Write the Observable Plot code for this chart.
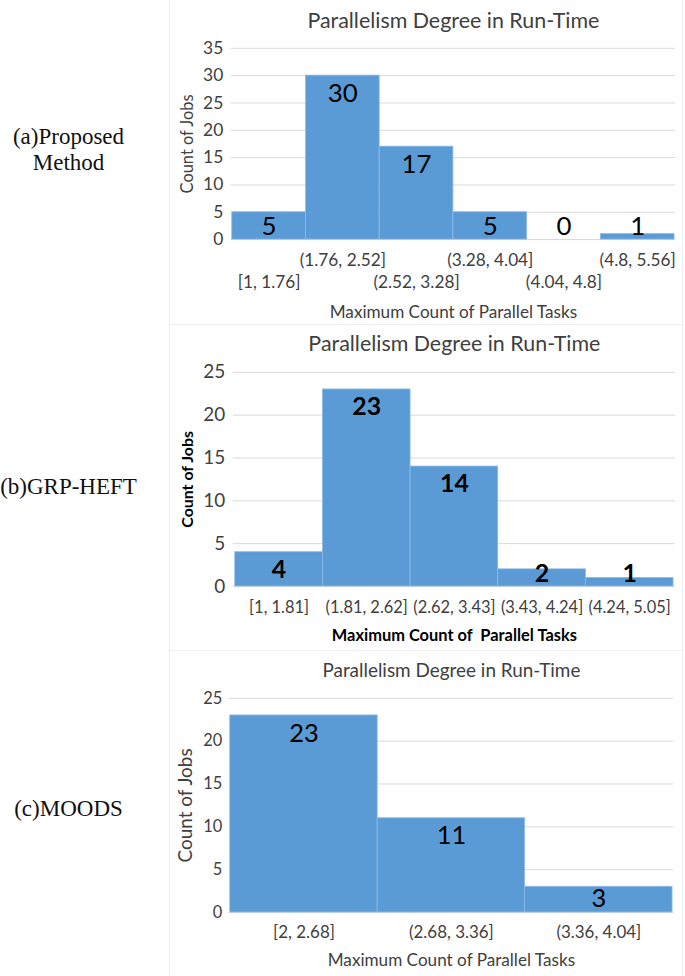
<!DOCTYPE html>
<html>
<head>
<meta charset="utf-8">
<script src="https://cdn.jsdelivr.net/npm/d3@7"></script>
<script src="https://cdn.jsdelivr.net/npm/@observablehq/plot@0.6"></script>
<style>
  html, body { margin: 0; padding: 0; background: #fff; }
  #page { position: relative; width: 685px; height: 976px; overflow: hidden; background: #fff; }
  .side { position: absolute; left: 0; width: 137px; text-align: center; font-family: "Liberation Serif", "Times New Roman", serif; font-size: 23px; line-height: 26px; color: #111; }
  .panel { position: absolute; left: 169px; width: 514px; box-sizing: border-box; border: 1px solid #efefef; }
  .panel svg { display: block; }
</style>
</head>
<body>
<div id="page">
  <div class="side" style="top:124px">(a)Proposed<br>Method</div>
  <div class="side" style="top:474px">(b)GRP-HEFT</div>
  <div class="side" style="top:796px">(c)MOODS</div>
  <div class="panel" id="pA" style="top:-1px;height:326px"></div>
  <div class="panel" id="pB" style="top:324px;height:327px"></div>
  <div class="panel" id="pC" style="top:650px;height:330px"></div>
</div>
<script>
// ---------- data ----------
const titleText = "Parallelism Degree in Run-Time";
const yLabelText = "Count of Jobs";
const xLabelA = "Maximum Count of Parallel Tasks";
const xLabelB = "Maximum Count of  Parallel Tasks";

const binsA = ["[1, 1.76]", "(1.76, 2.52]", "(2.52, 3.28]", "(3.28, 4.04]", "(4.04, 4.8]", "(4.8, 5.56]"];
const countsA = [5, 30, 17, 5, 0, 1];
const yTicksA = [0, 5, 10, 15, 20, 25, 30, 35];

const binsB = ["[1, 1.81]", "(1.81, 2.62]", "(2.62, 3.43]", "(3.43, 4.24]", "(4.24, 5.05]"];
const countsB = [4, 23, 14, 2, 1];
const yTicksB = [0, 5, 10, 15, 20, 25];

const binsC = ["[2, 2.68]", "(2.68, 3.36]", "(3.36, 4.04]"];
const countsC = [23, 11, 3];
const yTicksC = [0, 5, 10, 15, 20, 25];

// ---------- drawing ----------
const BAR = "#5B9BD5";
const GRID = "#d9d9d9";
const TXT = "#404040";

function panel(cfg) {
  const {bins, counts, ticks, width, height, ml, mr, mt, mb} = cfg;
  const yMax = ticks[ticks.length - 1];
  const k = (height - mt - mb) / yMax; // px per unit
  const data = bins.map((b, i) => ({
    bin: b, count: counts[i], row: i % 2,
    ly: Math.max(counts[i] - cfg.valOffset / k, cfg.valFloor / k)
  }));
  const fw = cfg.bold ? "bold" : "normal";
  const marks = [
    Plot.ruleY(ticks, {y: d => d, stroke: GRID, strokeWidth: 1}),
    Plot.barY(data.filter(d => d.count > 0), {x: "bin", y: "count", fill: BAR, stroke: "#8fb9e3", strokeWidth: 0.8}),
    Plot.text(data, {x: "bin", y: "ly", text: d => String(d.count), lineAnchor: "middle", fontSize: cfg.valSize, fontWeight: fw, fill: "#000"}),
    Plot.text(ticks, {y: d => d, text: d => String(d), frameAnchor: "left", textAnchor: "end", lineAnchor: "middle", dx: -cfg.yTickPad, fontSize: cfg.yTickSize, fill: TXT}),
    Plot.text([titleText], {text: d => d, frameAnchor: "top", textAnchor: "middle", lineAnchor: "middle", dy: cfg.titleY - mt, fontSize: cfg.titleSize, fill: TXT}),
    Plot.text([yLabelText], {text: d => d, frameAnchor: "left", textAnchor: "middle", lineAnchor: "middle", rotate: -90, dx: -cfg.yLabDx, fontSize: cfg.yLabSize, fontWeight: fw, fill: cfg.bold ? "#000" : TXT}),
    Plot.text([cfg.xLab], {text: d => d, frameAnchor: "bottom", textAnchor: "middle", lineAnchor: "middle", dy: cfg.xLabDy, fontSize: cfg.xLabSize, fontWeight: fw, fill: cfg.bold ? "#000" : TXT})
  ];
  const tickOpts = dy => ({x: "bin", text: "bin", frameAnchor: "bottom", textAnchor: "middle", lineAnchor: "middle", dy, fontSize: cfg.xTickSize, fill: TXT});
  if (cfg.stagger) {
    marks.push(Plot.text(data.filter(d => d.row === 1), tickOpts(cfg.xTickDy[0])));
    marks.push(Plot.text(data.filter(d => d.row === 0), tickOpts(cfg.xTickDy[1])));
  } else {
    marks.push(Plot.text(data, tickOpts(cfg.xTickDy[0])));
  }
  return Plot.plot({
    width, height,
    marginLeft: ml, marginRight: mr, marginTop: mt, marginBottom: mb,
    style: {fontFamily: "Lato, 'Open Sans', sans-serif", background: "transparent", overflow: "visible"},
    x: {type: "band", domain: bins, padding: 0, axis: null},
    y: {domain: [0, yMax], axis: null},
    marks
  });
}

document.getElementById("pA").append(panel({
  bins: binsA, counts: countsA, ticks: yTicksA, xLab: xLabelA,
  width: 514, height: 324, ml: 61, mr: 7, mt: 48, mb: 84,
  titleY: 21, titleSize: 21.5, yTickSize: 17.5, yTickPad: 8,
  yLabDx: 44, yLabSize: 16.5, xLabDy: 73, xLabSize: 17.2,
  xTickSize: 17.3, xTickDy: [21, 43], stagger: true,
  valSize: 26, valOffset: 18, valFloor: 13, bold: false
}));

document.getElementById("pB").append(panel({
  bins: binsB, counts: countsB, ticks: yTicksB, xLab: xLabelB,
  width: 514, height: 325, ml: 63, mr: 7, mt: 47, mb: 63,
  titleY: 19, titleSize: 21.5, yTickSize: 19, yTickPad: 8,
  yLabDx: 46, yLabSize: 16, xLabDy: 49, xLabSize: 16.5,
  xTickSize: 16.5, xTickDy: [21], stagger: false,
  valSize: 25, valOffset: 18, valFloor: 13, bold: true
}));

document.getElementById("pC").append(panel({
  bins: binsC, counts: countsC, ticks: yTicksC, xLab: xLabelA,
  width: 514, height: 325, ml: 59, mr: 9, mt: 47, mb: 63,
  titleY: 20, titleSize: 19, yTickSize: 16.5, yTickPad: 7,
  yLabDx: 44, yLabSize: 19, xLabDy: 48, xLabSize: 17.2,
  xTickSize: 17, xTickDy: [20], stagger: false,
  valSize: 25.5, valOffset: 18, valFloor: 14, bold: false
}));
</script>
</body>
</html>
